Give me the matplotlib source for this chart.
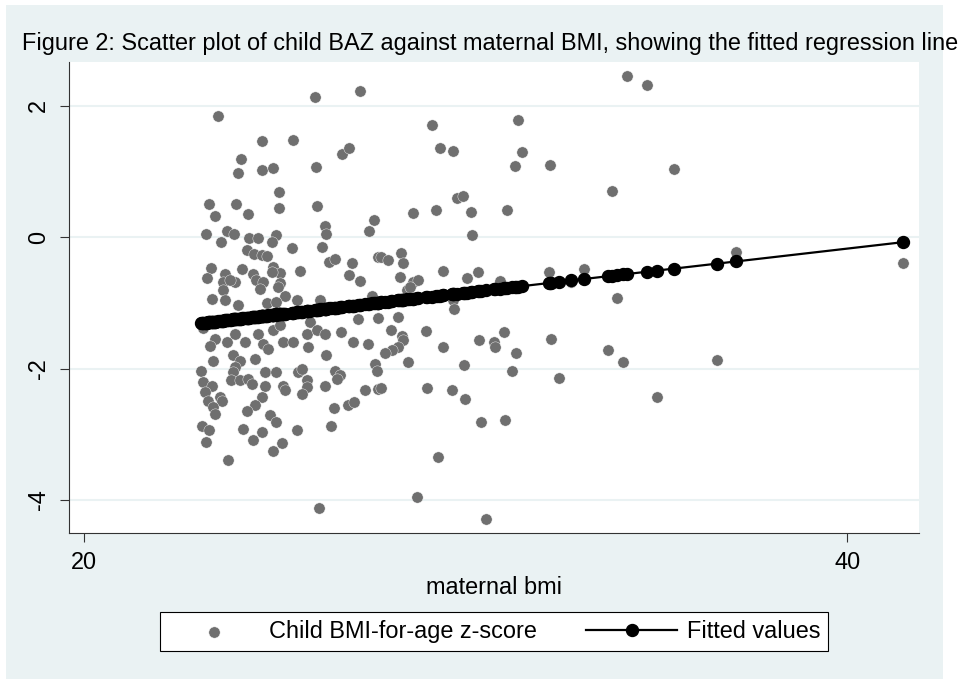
import numpy as np
import matplotlib
matplotlib.use("Agg")
import matplotlib.pyplot as plt
from matplotlib.patches import Rectangle

plt.rcParams['font.family'] = ['Liberation Sans', 'DejaVu Sans']

# values
bmi = [26.05, 27.24, 23.50, 24.67, 25.46, 26.76, 26.94, 24.10, 24.02, 24.65,
       24.96, 26.08, 25.10, 23.28, 23.98, 25.10, 26.09, 23.43, 24.29, 27.60,
       26.31, 26.34, 27.46, 23.19, 23.73, 23.93, 24.31, 24.56, 25.04, 24.91,
       23.58, 25.44, 26.23, 24.26, 24.45, 24.65, 24.80, 27.69, 23.31, 23.21,
       24.13, 24.94, 25.13, 24.91, 25.66, 26.42, 26.58, 27.03, 26.95, 27.24,
       23.69, 23.64, 23.95, 23.82, 23.63, 24.43, 24.49, 24.69, 24.61, 25.13,
       25.09, 23.34, 23.69, 24.04, 25.26, 25.57, 26.18, 24.78, 25.04, 27.54,
       23.12, 27.17, 25.92, 23.43, 23.30, 23.73, 23.95, 24.21, 24.56, 24.69,
       24.82, 24.96, 25.13, 25.22, 25.48, 25.83, 25.87, 26.09, 26.31, 26.73,
       27.04, 27.45, 26.33, 23.38, 23.91, 24.08, 23.95, 23.91, 24.48, 23.05,
       24.74, 25.03, 25.61, 25.70, 26.57, 26.70, 26.62, 27.62, 27.67, 23.12,
       23.34, 23.16, 23.86, 24.08, 24.30, 24.39, 24.74, 25.22, 25.26, 25.83,
       25.83, 25.70, 26.31, 27.36, 27.71, 23.25, 23.56, 23.60, 23.38, 23.43,
       24.65, 24.48, 24.26, 26.56, 26.92, 27.07, 24.87, 25.04, 23.08, 23.28,
       24.17, 24.65, 24.43, 25.57, 26.47, 23.19, 25.18, 24.94, 23.78, 26.15,
       29.12, 31.38, 29.33, 29.67, 31.47, 31.29, 32.22, 28.63, 29.21, 29.76,
       29.94, 30.14, 31.09, 30.16, 27.78, 27.97, 28.30, 28.36, 28.28, 28.63,
       28.76, 28.45, 28.54, 29.40, 30.03, 30.33, 30.90, 32.18, 29.67, 29.69,
       27.71, 28.23, 28.03, 28.32, 28.36, 28.23, 28.06, 27.88, 28.96, 29.41,
       30.36, 30.74, 30.77, 31.01, 31.32, 32.25, 28.48, 29.96, 31.21, 32.45,
       27.78, 28.98, 29.65, 29.99, 30.39, 31.04, 29.28, 28.72, 30.52,
       34.23, 34.75, 35.45, 33.84, 33.09, 37.09, 41.47, 33.97, 33.74, 34.13,
       36.60, 35.02, 32.76]

baz = [2.13, 2.23, 1.85, 1.46, 1.48, 1.26, 1.35, 1.19, 0.98, 1.02,
       1.05, 1.07, 0.68, 0.51, 0.51, 0.45, 0.48, 0.32, 0.35, 0.26,
       0.17, 0.05, 0.09, 0.04, 0.09, 0.05, -0.02, -0.01, 0.03, -0.08,
       -0.08, -0.17, -0.15, -0.20, -0.25, -0.27, -0.28, -0.31, -0.47, -0.62,
       -0.49, -0.46, -0.54, -0.53, -0.51, -0.38, -0.33, -0.39, -0.58, -0.67,
       -0.56, -0.68, -0.68, -0.66, -0.81, -0.56, -0.66, -0.68, -0.79, -0.70,
       -0.76, -0.94, -0.96, -1.04, -0.89, -0.96, -0.96, -1.01, -0.99, -0.89,
       -1.39, -1.24, -1.29, -1.55, -1.65, -1.60, -1.47, -1.60, -1.47, -1.62,
       -1.70, -1.42, -1.34, -1.60, -1.60, -1.47, -1.67, -1.42, -1.47, -1.45,
       -1.59, -1.62, -1.80, -1.88, -1.80, -1.88, -1.98, -2.05, -1.85, -2.03,
       -2.05, -2.05, -2.05, -2.00, -2.03, -2.10, -2.16, -1.93, -2.03, -2.21,
       -2.26, -2.36, -2.18, -2.18, -2.16, -2.23, -2.26, -2.26, -2.33, -2.18,
       -2.28, -2.38, -2.26, -2.32, -2.31, -2.49, -2.44, -2.49, -2.59, -2.69,
       -2.44, -2.56, -2.64, -2.60, -2.55, -2.51, -2.71, -2.82, -2.88, -2.94,
       -2.92, -2.97, -3.09, -2.94, -2.88, -3.12, -3.14, -3.26, -3.39, -4.12,
       1.70, 1.78, 1.36, 1.31, 1.29, 1.08, 1.09, 0.36, 0.42, 0.60,
       0.63, 0.38, 0.42, 0.03, -0.30, -0.35, -0.24, -0.40, -0.60, -0.68,
       -0.65, -0.81, -0.76, -0.51, -0.62, -0.53, -0.67, -0.53, -0.96, -1.10,
       -1.23, -1.22, -1.41, -1.50, -1.56, -1.67, -1.72, -1.77, -1.43, -1.67,
       -1.56, -1.60, -1.67, -1.45, -1.77, -1.55, -1.90, -1.94, -2.03, -2.15,
       -2.29, -2.30, -2.32, -2.47, -2.82, -2.78, -3.34, -3.96, -4.29,
       2.45, 2.32, 1.03, 0.70, -0.49, -0.23, -0.39, -0.93, -1.72, -1.90,
       -1.87, -2.43, -0.69]

# regression line as drawn in the picture
fit_intercept = -2.855
fit_slope = 0.067

x_ticks = [20, 40]
y_ticks = [-4, -2, 0, 2]

bg = '#eaf2f3'
fs = 16.9

fig = plt.figure(figsize=(9.68, 6.79), dpi=100, facecolor='white')
fig.patches.append(Rectangle((6 / 968, 0), 937 / 968, 1 - 5 / 679,
                             transform=fig.transFigure, facecolor=bg,
                             edgecolor='none', zorder=-10))

ax = fig.add_axes([69 / 968, 1 - 532.7 / 679, 850 / 968, 470.7 / 679])
ax.set_facecolor('white')

x = np.array(bmi)
xs = np.sort(x)
fitted = fit_intercept + fit_slope * xs

sc = ax.scatter(bmi, baz, s=66, color='#6f6f6f', edgecolors='#f4f4f4',
                linewidths=0.3, zorder=2, label='Child BMI-for-age z-score')
ln, = ax.plot(xs, fitted, '-o', color='black', lw=1.6, ms=8.6, zorder=3,
              label='Fitted values')

ax.set_xlim(19.6, 41.885)
ax.set_ylim(-4.498, 2.665)
ax.set_xticks(x_ticks)
ax.set_yticks(y_ticks)
ax.set_yticklabels([str(v) for v in y_ticks], rotation=90, va='center')
ax.tick_params(axis='both', labelsize=fs, length=6.5, width=0.8,
               color='#333333', pad=7)
ax.grid(axis='y', color=bg, lw=1.5, zorder=0)
ax.set_axisbelow(True)

for side in ['top', 'right']:
    ax.spines[side].set_visible(False)
for side in ['left', 'bottom']:
    ax.spines[side].set_color('#333333')
    ax.spines[side].set_linewidth(0.8)

ax.set_xlabel('maternal bmi', fontsize=fs, labelpad=1)

fig.text(22 / 968, 1 - 50 / 679,
         'Figure 2: Scatter plot of child BAZ against maternal BMI, showing the fitted regression line',
         fontsize=fs, ha='left', va='baseline')

leg = fig.legend([sc, ln], ['Child BMI-for-age z-score', 'Fitted values'],
                 loc='center', bbox_to_anchor=(494 / 968, 1 - 631.3 / 679),
                 ncol=2, frameon=True, fancybox=False, edgecolor='black',
                 facecolor='white', framealpha=1, fontsize=fs,
                 handlelength=3.9, handletextpad=0.4, columnspacing=2.1,
                 borderpad=0.35, borderaxespad=0)
leg.get_frame().set_linewidth(0.8)

fig.savefig('out.png', dpi=100, facecolor='white')
